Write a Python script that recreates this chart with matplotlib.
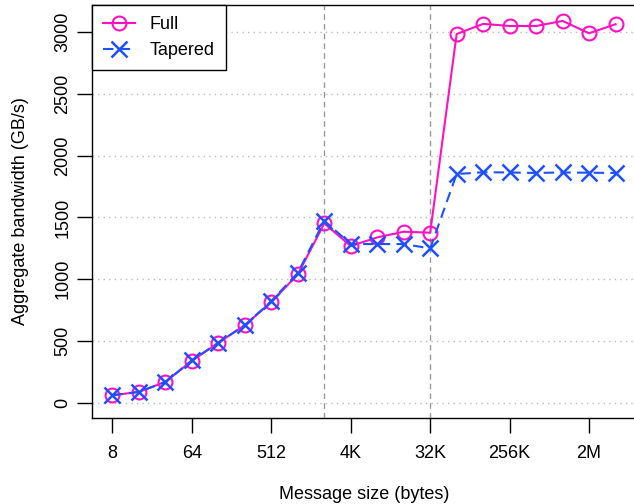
import matplotlib
matplotlib.use("Agg")
import matplotlib.pyplot as plt

# message sizes in bytes, 8 .. 4M
sizes = [2 ** k for k in range(3, 23)]
full = [59, 86, 168, 338, 484, 627, 814, 1038, 1451, 1268, 1338, 1384, 1376,
        2986, 3068, 3051, 3051, 3092, 2992, 3065]
tapered = [59, 86, 167, 342, 485, 627, 821, 1051, 1473, 1284, 1284, 1284, 1249,
           1851, 1866, 1864, 1860, 1864, 1862, 1860]
tick_sizes = [8, 64, 512, 4096, 32768, 262144, 2097152]
tick_labels = ["8", "64", "512", "4K", "32K", "256K", "2M"]
y_ticks = [0, 500, 1000, 1500, 2000, 2500, 3000]
split_sizes = [2048, 32768]

plt.rcParams['font.family'] = ['Liberation Sans', 'DejaVu Sans']
plt.rcParams['font.size'] = 13

fig = plt.figure(figsize=(6.34, 5.04), dpi=100)
W, H = 634, 504
ax = fig.add_axes([92 / W, (H - 417.7) / H, (636 - 92) / W, (417.7 - 5) / H])

# grid: dotted horizontal, dashed vertical at regime changes
for yv in y_ticks:
    ax.axhline(yv, color="#bbbbbb", lw=1, ls=(0, (1, 3)), zorder=1)
for xv in split_sizes:
    ax.axvline(xv, color="#999999", lw=1, ls=(0, (4, 3)), zorder=1)

pink = "#FF10C0"
blue = "#1E50FF"
ax.plot(sizes, full, color=pink, lw=1.5, marker="o", ms=10, mfc="none",
        mec=pink, mew=1.5, label="Full", zorder=3)
ax.plot(sizes, tapered, color=blue, lw=1.5, ls=(0, (5, 3)), marker="x", ms=11,
        mew=1.8, label="Tapered", zorder=4)

ax.set_xscale("log", base=2)
ax.set_xlim(2 ** 2.226, 2 ** 22.774)
ax.set_ylim(-123, 3221)
ax.set_xticks(tick_sizes)
ax.set_xticklabels(tick_labels)
ax.minorticks_off()
ax.set_yticks(y_ticks)
ax.set_yticklabels([str(v) for v in y_ticks], rotation=90, va="center")
ax.tick_params(axis="both", length=11, width=1, direction="out")
ax.tick_params(axis="x", pad=9)
ax.tick_params(axis="y", pad=4)

ax.spines["right"].set_visible(False)
for s in ["left", "bottom", "top"]:
    ax.spines[s].set_linewidth(1)

ax.set_xlabel("Message size (bytes)", labelpad=17)
ax.set_ylabel("Aggregate bandwidth (GB/s)", labelpad=18)

leg = ax.legend(loc="upper left", borderaxespad=0, fancybox=False,
                edgecolor="black", framealpha=1, handlelength=1.8,
                handletextpad=0.8, borderpad=0.6, labelspacing=0.5)
leg.get_frame().set_linewidth(1)

fig.savefig("out.png", dpi=100)
